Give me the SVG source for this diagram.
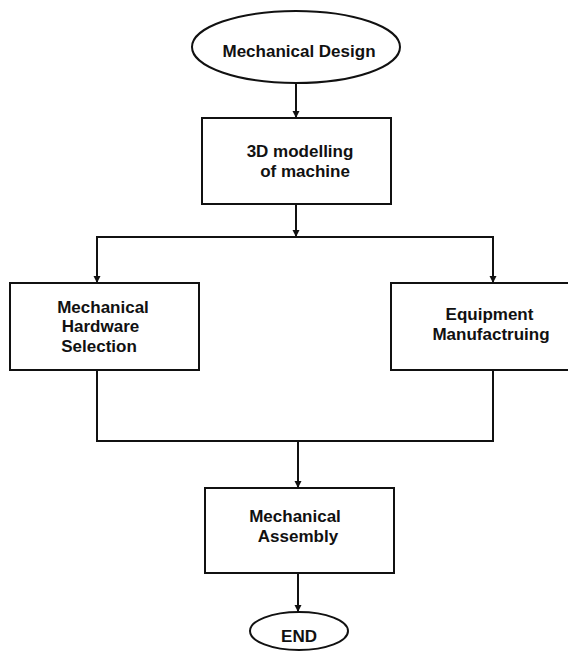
<svg xmlns="http://www.w3.org/2000/svg" width="568" height="651" viewBox="0 0 568 651">
<style>
.shape{fill:#fff;stroke:#111;stroke-width:2}
.lbl{font-family:"Liberation Sans",Arial,sans-serif;font-weight:bold;font-size:17px;fill:#111;text-anchor:middle}
.conn{fill:none;stroke:#111;stroke-width:2}
</style>
<defs>
<marker id="ah" markerUnits="userSpaceOnUse" markerWidth="8" markerHeight="8" refX="7" refY="3.5" orient="auto">
<path d="M0,0 L7,3.5 L0,7 z" fill="#111"/>
</marker>
</defs>
<rect width="568" height="651" fill="#fff"/>
<g id="connectors">
<line class="conn" x1="296" y1="83" x2="296" y2="118" marker-end="url(#ah)"/>
<line class="conn" x1="296" y1="204" x2="296" y2="237" marker-end="url(#ah)"/>
<line class="conn" x1="96" y1="237" x2="494" y2="237"/>
<line class="conn" x1="97" y1="237" x2="97" y2="283" marker-end="url(#ah)"/>
<line class="conn" x1="493" y1="237" x2="493" y2="283" marker-end="url(#ah)"/>
<line class="conn" x1="97" y1="370" x2="97" y2="441"/>
<line class="conn" x1="493" y1="370" x2="493" y2="441"/>
<line class="conn" x1="96" y1="441" x2="494" y2="441"/>
<line class="conn" x1="298" y1="441" x2="298" y2="488" marker-end="url(#ah)"/>
<line class="conn" x1="298" y1="573" x2="298" y2="612" marker-end="url(#ah)"/>
</g>
<g id="start">
<ellipse class="shape" cx="296" cy="47" rx="104" ry="36"/>
<text class="lbl" x="299" y="57">Mechanical Design</text>
</g>
<g id="modelling">
<rect class="shape" x="202" y="118" width="189" height="86"/>
<text class="lbl" x="300" y="157">3D modelling</text>
<text class="lbl" x="305" y="177">of machine</text>
</g>
<g id="hardware">
<rect class="shape" x="10" y="283" width="189" height="87"/>
<text class="lbl" x="103" y="313">Mechanical</text>
<text class="lbl" x="100.5" y="332">Hardware</text>
<text class="lbl" x="99" y="352">Selection</text>
</g>
<g id="manufacturing">
<rect class="shape" x="391" y="283" width="180" height="87"/>
<text class="lbl" x="489.5" y="320">Equipment</text>
<text class="lbl" x="491" y="340">Manufactruing</text>
</g>
<g id="assembly">
<rect class="shape" x="205" y="488" width="189" height="85"/>
<text class="lbl" x="295" y="522">Mechanical</text>
<text class="lbl" x="298" y="542">Assembly</text>
</g>
<g id="end">
<ellipse class="shape" cx="299" cy="631" rx="49" ry="19"/>
<text class="lbl" x="299" y="642">END</text>
</g>
</svg>
